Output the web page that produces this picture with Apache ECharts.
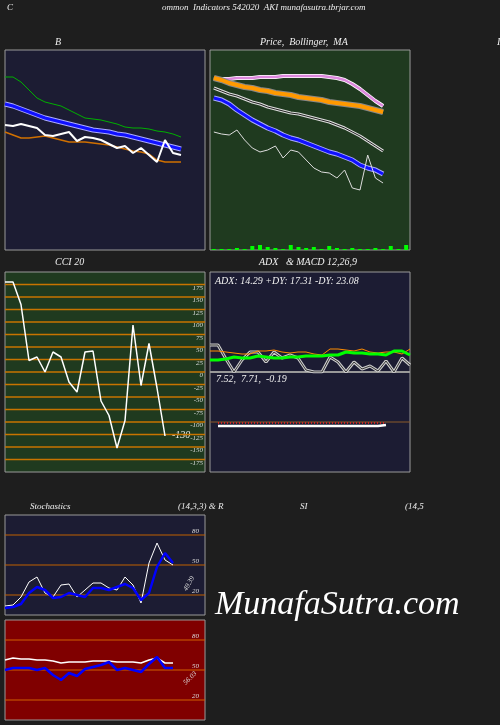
<!DOCTYPE html>
<html><head><meta charset="utf-8">
<script src="https://cdn.jsdelivr.net/npm/echarts@6/dist/echarts.min.js"></script>
<style>html,body{margin:0;background:#1e1e1e}#c{width:500px;height:725px}</style>
</head><body><div id="c"></div>
<script>
// ---- data ----
const slots = Array.from({length:26},(_,i)=>i);
const bGreen=[173,173,168,160,152,148,146,144,140,136,132,131,130,128,126,123,122,122,121,119,118,116,113];
const bBlue=[146,144,141,138,135,132,130,128,126,124,122,120,119,118,116,115,113,111,109,107,105,103,101];
const bOrange=[118,115,112,112,113,114,112,110,108,108,108,107,106,105,103,101,99,98,96,90,88,88,88];
const bWhite=[125,124,126,124,122,115,114,116,118,109,113,112,110,106,102,104,97,102,95,88,110,97,95];
const pPink=[171,171,171,172,172,172,173,173,173,174,174,174,174,174,174,173,172,170,166,161,155,149,144];
const pOrange=[172,170,167,165,163,162,160,159,157,156,155,153,152,151,150,148,147,146,145,144,142,140,138];
const pGrey=[162,159,156,154,151,148,146,143,141,139,137,136,134,132,130,128,125,122,118,114,109,104,99];
const pBlue=[152,150,146,140,135,130,126,122,119,115,112,110,107,104,101,98,96,93,90,85,82,80,76];
const pWhite=[118,116,115,120,110,102,98,100,104,92,100,98,90,82,78,77,72,80,62,60,95,72,67];
const volume=[1,1,1,2,1,4,5,3,2,1,5,3,2,3,1,4,2,1,2,1,1,2,1,4,1,5];
const cci=[180,180,135,23,30,0,40,30,-20,-40,40,42,-58,-87,-152,-97,94,-27,57,-32,-128];
const cciTicks=[175,150,125,100,75,50,25,0,-25,-50,-75,-100,-125,-150,-175];
const adx=[27,27,13,0,12,20,20,10,20,14,17,14,2,0,0,15,10,0,10,3,6,1,11,0,14,7];
const pdi=[21,21,20,19,18,18,21,21,22,20,19,20,20,18,17,23,23,22,21,23,20,19,20,20,18,23];
const mdi=[12,12,13,15,14,14,16,15,14,14,15,15,16,16,16,17,17,20,19,19,18,18,17,21,21,17];
const macd=[null,-1,-1,-1,-1,-1,-1,-1,-1,-1,-1,-1,-1,-1,-1,-1,-1,-1,-1,-1,-1,-1,-1];
const signal=[null,-4,-4,-4,-4,-4,-4,-4,-4,-4,-4,-4,-4,-4,-4,-4,-4,-4,-4,-4,-4,-4,-3];
const stK=[9,10,18,33,38,22,18,30,31,18,25,32,32,27,25,38,30,12,52,72,55,50];
const stD=[7,8,11,22,28,25,17,18,22,20,18,27,27,25,28,31,27,15,22,48,62,52];
const rsi=[60,62,61,61,60,60,59,57,58,58,58,59,59,59,58,58,58,57,60,62,57,57];
const rsiB=[50,52,52,52,50,52,45,40,47,44,51,53,55,58,50,52,50,48,56,63,52,52];
const levels=[80,50,20];

const F='"Liberation Serif", serif';
const grids=[
 {left:5,top:50,width:200,height:200,bg:'#1c1c33'},
 {left:210,top:50,width:200,height:200,bg:'#1f3a1f'},
 {left:5,top:272,width:200,height:200,bg:'#1f3a1f'},
 {left:210,top:272,width:200,height:100,bg:'#1c1c33'},
 {left:210,top:372,width:200,height:100,bg:'#1c1c33'},
 {left:5,top:515,width:200,height:100,bg:'#1c1c33'},
 {left:5,top:620,width:200,height:100,bg:'#800000'}
];
const yr=[[0,200],[0,200],[-200,200],[0,100],[-50,50],[0,100],[0,100]];
const option={
 backgroundColor:'#1e1e1e',animation:false,
 grid:grids.map(g=>({left:g.left,top:g.top,width:g.width,height:g.height,show:true,backgroundColor:g.bg,borderColor:'#999',borderWidth:1})),
 xAxis:grids.map((g,i)=>({type:'category',gridIndex:i,data:slots,boundaryGap:i===1,show:false,splitLine:{show:false}})),
 yAxis:grids.map((g,i)=>{
  const a={type:'value',gridIndex:i,min:yr[i][0],max:yr[i][1],axisLine:{show:false},axisTick:{show:false},splitLine:{show:false},axisLabel:{show:false}};
  if(i===2){a.position='right';a.interval=25;
   a.axisLabel={show:true,inside:true,color:'#ddd',fontSize:7,fontFamily:F,fontStyle:'italic',verticalAlign:'top',margin:2,formatter:v=>cciTicks.includes(v)?String(v):''};}
  if(i===5||i===6){a.position='right';a.interval=10;
   a.axisLabel={show:true,inside:true,color:'#ddd',fontSize:7,fontFamily:F,fontStyle:'italic',verticalAlign:'bottom',margin:6,formatter:v=>levels.includes(v)?String(v):''};}
  return a;}),
 series:[]
};
function L(gi,data,color,width,extra){option.series.push(Object.assign({type:'line',xAxisIndex:gi,yAxisIndex:gi,data:data,symbol:'none',itemStyle:{color:color},lineStyle:{color:color,width:width}},extra||{}));}
function H(gi,vals,color,width){vals.forEach(v=>L(gi,slots.map(()=>v),color,width,{silent:true}));}
// B
L(0,bGreen,'#00b000',1);
L(0,bBlue,'#aaaaff',5);L(0,bBlue,'#1010ff',3);
L(0,bOrange,'#d07000',1.5);
L(0,bWhite,'#ffffff',2);
// Price
L(1,pPink,'#ffffff',4);L(1,pPink,'#dd88dd',2.5);
L(1,pOrange,'#888888',6);L(1,pOrange,'#ff9900',4);
L(1,pGrey,'#dddddd',3);L(1,pGrey,'#222222',1);
L(1,pBlue,'#aaaaff',5);L(1,pBlue,'#1010ff',3);
L(1,pWhite,'#dddddd',1);
option.series.push({type:'bar',xAxisIndex:1,yAxisIndex:1,data:volume,barWidth:4,itemStyle:{color:'#00ff00'}});
// CCI
H(2,cciTicks,'#c87400',1.4);
L(2,cci,'#ffffff',1.5);
// ADX
H(3,[0],'#999999',2);
L(3,adx,'#cccccc',3);L(3,adx,'#333333',1);
L(3,pdi,'#ff8c00',1);
L(3,mdi,'#00ff00',3);
// MACD
H(4,[0],'#8b5a2b',1);
L(4,signal,'#ffffff',2.5);
L(4,macd,'#ff2020',1.5,{lineStyle:{color:'#ff2020',width:1.5,type:[1,2]}});
// Stoch / RSI
H(5,levels,'#c06000',1.2);
L(5,stK,'#ffffff',1);
L(5,stD,'#0000ff',2.5);
H(6,levels,'#d06000',1.2);
L(6,rsi,'#ffffff',1.5);
L(6,rsiB,'#0000ff',2.5);

const T=(x,y,t,s)=>({type:'text',left:x,top:y,style:{text:t,fill:'#eee',font:'italic '+(s||9)+'px '+F}});
option.graphic=[
 T(7,3,'C',9),
 T(162,3,'ommon  Indicators 542020  AKI munafasutra.tbrjar.com',9),
 T(55,37,'B',10),
 T(260,37,'Price,  Bollinger,  MA',10),
 T(497,37,'I',10),
 T(55,257,'CCI 20',10),
 T(259,257,'ADX   & MACD 12,26,9',10),
 T(215,276,'ADX: 14.29 +DY: 17.31 -DY: 23.08',10),
 T(216,374,'7.52,  7.71,  -0.19',10),
 T(172,430,'-130',10),
 T(30,502,'Stochastics',9),
 T(178,502,'(14,3,3) & R',9),
 T(300,502,'SI',9),
 T(405,502,'(14,5',9),
 {type:'text',left:182,top:575,rotation:Math.PI/3,style:{text:'49.39',fill:'#ddd',font:'italic 7px '+F}},
 {type:'text',left:182,top:670,rotation:Math.PI/4,style:{text:'56.03',fill:'#ddd',font:'italic 7px '+F}},
 T(215,588,'MunafaSutra.com',34)
];
option.graphic[option.graphic.length-1].style.fill='#ffffff';
echarts.init(document.getElementById('c')).setOption(option);
</script></body></html>
